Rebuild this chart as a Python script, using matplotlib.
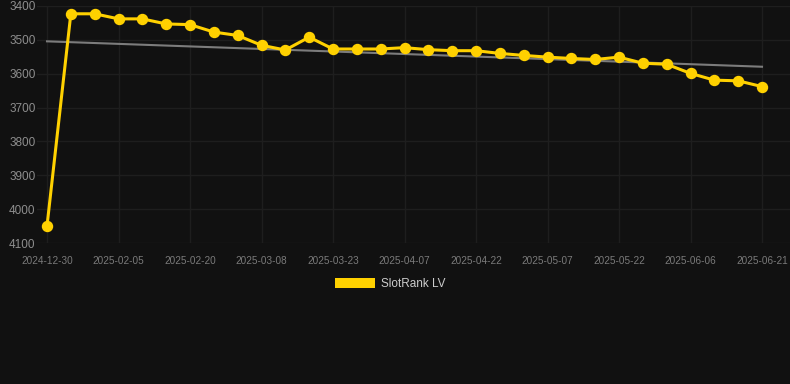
import numpy as np
import matplotlib
matplotlib.use("Agg")
import matplotlib.pyplot as plt
from matplotlib.patches import Patch

# rank history (lower number = better, axis inverted)
dates = ["2024-12-30", "2025-01-26", "2025-01-31", "2025-02-05", "2025-02-10",
         "2025-02-15", "2025-02-20", "2025-02-25", "2025-03-03", "2025-03-08",
         "2025-03-13", "2025-03-18", "2025-03-23", "2025-03-28", "2025-04-02",
         "2025-04-07", "2025-04-12", "2025-04-17", "2025-04-22", "2025-04-27",
         "2025-05-02", "2025-05-07", "2025-05-12", "2025-05-17", "2025-05-22",
         "2025-05-27", "2025-06-01", "2025-06-06", "2025-06-11", "2025-06-16",
         "2025-06-21"]
ranks = [4050, 3423, 3423, 3438, 3438, 3453, 3455, 3477, 3487, 3516,
         3530, 3492, 3527, 3527, 3527, 3523, 3529, 3532, 3532, 3540,
         3546, 3551, 3555, 3558, 3551, 3569, 3572, 3599, 3619, 3621,
         3638]
series_name = "SlotRank LV"
y_ticks = [3400, 3500, 3600, 3700, 3800, 3900, 4000, 4100]

BG = "#111111"
GRID = "#1e1e1e"
YELLOW = "#FFD100"

W, H = 790, 384
fig = plt.figure(figsize=(W / 100, H / 100), dpi=100, facecolor=BG)
ax = fig.add_axes([37 / W, 1 - 243 / H, (W - 37) / W, (243 - 6) / H], facecolor=BG)

x = np.arange(len(dates))
ax.plot(x, ranks, color=YELLOW, linewidth=2.2, marker="o", markersize=7.2,
        zorder=3, clip_on=False)

# linear trend over the whole series
k, b = np.polyfit(x, ranks, 1)
ax.plot(x[[0, -1]], k * x[[0, -1]] + b, color="#7c7c7c", linewidth=1.5, zorder=2)

px = (762 - 47) / (len(dates) - 1)
ax.set_xlim(-10 / px, len(dates) - 1 + 28 / px)
ax.set_ylim(4100, 3400)

ax.set_yticks(y_ticks)
ax.set_yticklabels([str(t) for t in y_ticks])
ax.set_xticks(x[::3])
ax.set_xticklabels(dates[::3])

for s in ax.spines.values():
    s.set_visible(False)
ax.grid(True, color=GRID, linewidth=1)
ax.set_axisbelow(True)
ax.tick_params(axis="y", length=0, pad=1, labelsize=8.5, labelcolor="#8e8e8e")
ax.tick_params(axis="x", length=0, pad=9, labelsize=7.2, labelcolor="#7a7a7a")
for lab in ax.get_xticklabels() + ax.get_yticklabels():
    lab.set_fontfamily("Liberation Sans")

fig.legend(handles=[Patch(facecolor=YELLOW, edgecolor="none", label=series_name)],
           loc="center", bbox_to_anchor=(390 / W, 1 - 284 / H), frameon=False,
           handlelength=3.4, handleheight=0.93, handletextpad=0.5,
           prop={"family": "Liberation Sans", "size": 8.5}, labelcolor="#cccccc")

fig.savefig("out.png", dpi=100, facecolor=BG)
